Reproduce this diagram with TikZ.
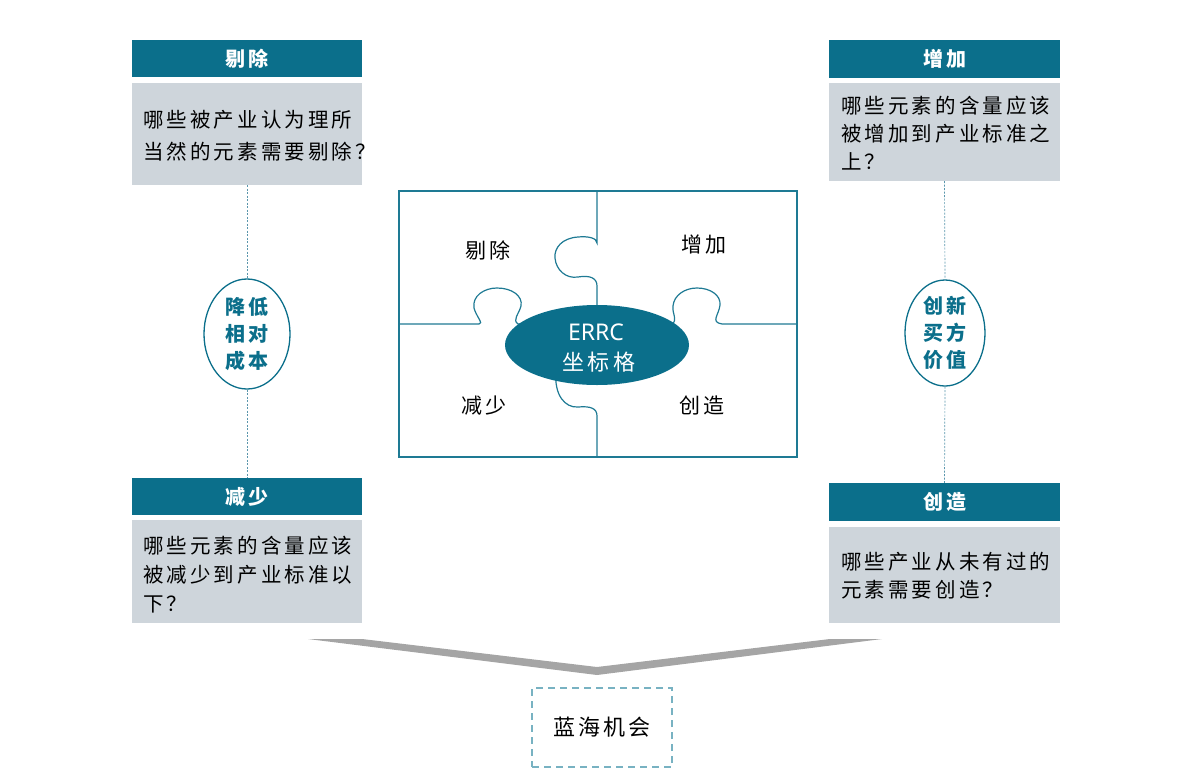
\documentclass[tikz,border=0pt]{standalone}
\usepackage{fontspec}
\usetikzlibrary{shapes.geometric}
\newfontfamily\cjk[LetterSpace=15]{Noto Sans CJK SC}
\newfontfamily\cjkplain{Noto Sans CJK SC}
\newfontfamily\latinsans{Noto Sans}
\definecolor{teal1}{RGB}{11,111,139}
\definecolor{teal2}{RGB}{30,122,148}
\definecolor{graybody}{RGB}{206,213,219}
\definecolor{dashc}{RGB}{90,150,172}
\definecolor{boxdash}{RGB}{120,178,194}
\definecolor{chev}{RGB}{165,165,165}
\begin{document}
\begin{tikzpicture}[x=1pt,y=-1pt,
  header/.style={rectangle,fill=teal1,text=white,inner sep=0pt,minimum width=230pt,minimum height=37pt,font=\cjk\bfseries\fontsize{20}{22}\selectfont},
  bodybox/.style={rectangle,fill=graybody,inner sep=0pt,minimum width=230pt},
  bodytext/.style={anchor=west,align=left,inner sep=0pt,text=black},
  oval/.style={ellipse,draw=teal1,line width=1.3pt,fill=white,inner sep=0pt,text=teal1,align=center,font=\cjk\bfseries\fontsize{20}{27}\selectfont},
  dashlink/.style={draw=dashc,dashed,dash pattern=on 2pt off 1.5pt,line width=0.7pt},
  puzzle/.style={draw=teal2,line width=1.2pt},
  plabel/.style={inner sep=0pt,font=\cjk\fontsize{21}{24}\selectfont}
]
\useasboundingbox (0,0) rectangle (1200,774);

% ---- left column ----
\node[header] (h1) at (247,58.5) {剔除};
\node[bodybox,minimum height=102pt] (b1) at (247,134) {};
\node[bodytext,font=\cjk\fontsize{20.5}{32}\selectfont] (t1) at (143,136) {哪些被产业认为理所\\当然的元素需要剔除？};

\node[oval,minimum width=86pt,minimum height=110pt] (o1) at (247,334) {降低\\相对\\成本};

\node[header] (h2) at (247,496.5) {减少};
\node[bodybox,minimum height=103pt] (b2) at (247,571.5) {};
\node[bodytext,font=\cjk\fontsize{20.5}{29}\selectfont] (t2) at (143,575) {哪些元素的含量应该\\被减少到产业标准以\\下？};

\draw[dashlink] (b1.south) -- (o1.north);
\draw[dashlink] (o1.south) -- (h2.north);

% ---- right column ----
\node[header,minimum width=231pt,minimum height=38pt] (h3) at (944.5,59) {增加};
\node[bodybox,minimum width=231pt,minimum height=98pt] (b3) at (944.5,132) {};
\node[bodytext,font=\cjk\fontsize{20.5}{28}\selectfont] (t3) at (841,133) {哪些元素的含量应该\\被增加到产业标准之\\上？};

\node[oval,minimum width=80pt,minimum height=106pt] (o2) at (945,333) {创新\\买方\\价值};

\node[header,minimum width=231pt,minimum height=38pt] (h4) at (944.5,502) {创造};
\node[bodybox,minimum width=231pt,minimum height=96pt] (b4) at (944.5,575) {};
\node[bodytext,font=\cjk\fontsize{20.5}{28}\selectfont] (t4) at (841,576) {哪些产业从未有过的\\元素需要创造？};

\draw[dashlink] (b3.south) -- (o2.north);
\draw[dashlink] (o2.south) -- (h4.north);

% ---- puzzle ----
\node[rectangle,draw=teal2,line width=1.2pt,minimum width=398pt,minimum height=266pt,inner sep=0pt] (frame) at (598,324) {};
\draw[puzzle] (597,191) -- (597,243) .. controls (597,238) and (588,236) .. (578,237)
  .. controls (562,238) and (554,248) .. (555,258)
  .. controls (556,270) and (566,279) .. (578,277)
  .. controls (590,275) and (597,278) .. (597,286) -- (597,330);
\draw[puzzle] (556,372) .. controls (554,395) and (565,408) .. (578,407)
  .. controls (590,406) and (597,408) .. (597,416) -- (597,457);
\draw[puzzle] (399,324) -- (479,324) .. controls (484,324) and (476,316) .. (474,308)
  .. controls (472,296) and (484,288) .. (497,288)
  .. controls (512,288) and (523,296) .. (521,306)
  .. controls (519,314) and (512,320) .. (518,324) -- (540,324);
\draw[puzzle] (660,324) -- (672,324) .. controls (678,320) and (672,314) .. (673,306)
  .. controls (674,295) and (685,288) .. (697,288)
  .. controls (710,288) and (721,295) .. (720,305)
  .. controls (719,315) and (710,322) .. (722,324) -- (797,324);

\node[ellipse,fill=teal1,inner sep=0pt,minimum width=184pt,minimum height=80pt] (errc) at (597,345) {};
\node[inner sep=0pt,text=white,font=\latinsans\fontsize{23}{24}\selectfont] (errc1) at (596,332) {ERRC};
\node[inner sep=0pt,text=white,font=\cjk\fontsize{22}{24}\selectfont] (errc2) at (599,362) {坐标格};

\node[plabel] (p1) at (488,250) {剔除};
\node[plabel] (p2) at (704,245) {增加};
\node[plabel] (p3) at (484,406) {减少};
\node[plabel] (p4) at (702,405) {创造};

% ---- chevron ----
\fill[chev] (308,639) -- (362,639) -- (597,667) -- (830,639) -- (882,639) -- (597,675) -- cycle;

% ---- result box ----
\node[rectangle,draw=boxdash,dashed,dash pattern=on 7pt off 5pt,line width=1.6pt,minimum width=140pt,minimum height=79pt,inner sep=0pt,font=\cjk\fontsize{22}{24}\selectfont] (blue) at (602,727.5) {蓝海机会};
\end{tikzpicture}
\end{document}
